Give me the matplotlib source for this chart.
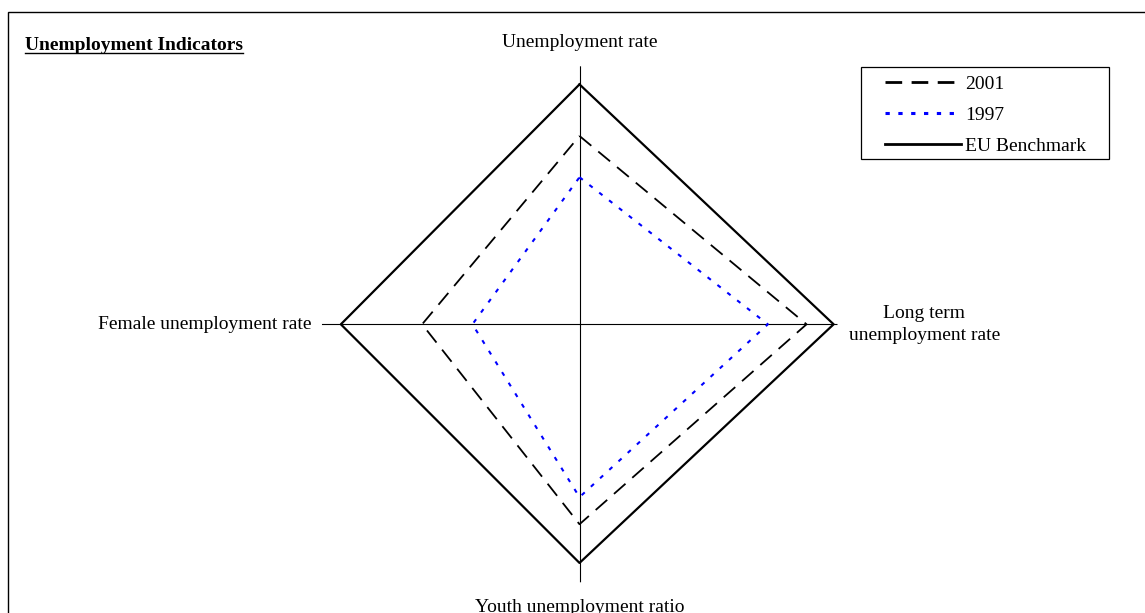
import numpy as np
import matplotlib
matplotlib.use("Agg")
import matplotlib.pyplot as plt
from matplotlib.patches import Rectangle
from matplotlib.lines import Line2D

plt.rcParams['font.family'] = ['Liberation Serif', 'DejaVu Serif']

# --- Data (axis scale 0-100) ---
categories = ["Unemployment rate", "Long term\nunemployment rate",
              "Youth unemployment ratio", "Female unemployment rate"]
vals_2001 = [73, 88, 77.5, 61]
vals_1997 = [57, 73, 67, 41.5]
vals_bench = [93, 98.5, 92.5, 92.5]
series_labels = ["2001", "1997", "EU Benchmark"]
title = "Unemployment Indicators"

W, H = 1145, 613
fig = plt.figure(figsize=(W / 100, H / 100), dpi=100)

# outer border (runs off the right/bottom edge like the original)
fig.patches.append(Rectangle((8 / W, -0.1), 1.2, 1.1 - 12 / H, transform=fig.transFigure,
                             fill=False, edgecolor='black', linewidth=1.0))

# --- Radar axes ---
cx, cy, R = 579.5, 324.3, 258
ax = fig.add_axes([(cx - R) / W, (H - cy - R) / H, 2 * R / W, 2 * R / H], projection='polar')
ax.set_theta_zero_location('N')
ax.set_theta_direction(-1)
ax.set_ylim(0, 100)
ax.spines['polar'].set_visible(False)
ax.set_yticks([])
ax.set_xticks(np.linspace(0, 2 * np.pi, len(categories), endpoint=False))
ax.set_xticklabels([])
ax.xaxis.grid(True, color='black', linewidth=0.8)
ax.yaxis.grid(False)
ax.patch.set_alpha(0)

theta = np.linspace(0, 2 * np.pi, len(categories), endpoint=False)
th = np.append(theta, theta[0])

def closed(v):
    return np.append(v, v[0])

ax.plot(th, closed(vals_2001), color='black', linewidth=1.3, linestyle=(0, (8.5, 5)))
ax.plot(th, closed(vals_1997), color='#0000ff', linewidth=1.5, linestyle=(0, (2, 4)))
ax.plot(th, closed(vals_bench), color='black', linewidth=1.6)

fs = 14
# axis labels
ax.annotate(categories[0], xy=(theta[0], 100), xytext=(0, 16.8), textcoords='offset points',
            ha='center', va='center', fontsize=fs)
ax.annotate(categories[1], xy=(theta[1], 100), xytext=(8, 0), textcoords='offset points',
            ha='left', va='center', multialignment='center', fontsize=fs, linespacing=1.4)
ax.annotate(categories[2], xy=(theta[2], 100), xytext=(0, -18), textcoords='offset points',
            ha='center', va='center', fontsize=fs)
ax.annotate(categories[3], xy=(theta[3], 100), xytext=(-7, 0), textcoords='offset points',
            ha='right', va='center', fontsize=fs)

# --- Legend (frame drawn separately so the padding can match) ---
fig.patches.append(Rectangle((860.7 / W, 1 - 159.3 / H), (1109.3 - 860.7) / W, 92 / H,
                             transform=fig.transFigure, fill=False,
                             edgecolor='black', linewidth=0.9))
handles = [Line2D([], [], color='black', linewidth=2, linestyle=(0, (6, 3.4))),
           Line2D([], [], color='#0000ff', linewidth=2.2, linestyle=(0, (1.4, 2.8))),
           Line2D([], [], color='black', linewidth=2)]
leg = fig.legend(handles, series_labels, loc='upper left',
                 bbox_to_anchor=(885 / W, 1 - 75.5 / H), borderaxespad=0, borderpad=0,
                 fontsize=fs, frameon=False, handlelength=3.9,
                 handletextpad=0.2, labelspacing=0.68)

# --- Title with underline ---
t = fig.text(25 / W, 1 - 50 / H, title, fontsize=14, fontweight='bold',
             ha='left', va='baseline')
fig.canvas.draw()
bb = t.get_window_extent(renderer=fig.canvas.get_renderer())
yline = (H - 52.5) / H
fig.add_artist(Line2D([bb.x0 / W, bb.x1 / W], [yline, yline], color='black',
                      linewidth=1.0, transform=fig.transFigure))

fig.savefig("out.png", dpi=100)
